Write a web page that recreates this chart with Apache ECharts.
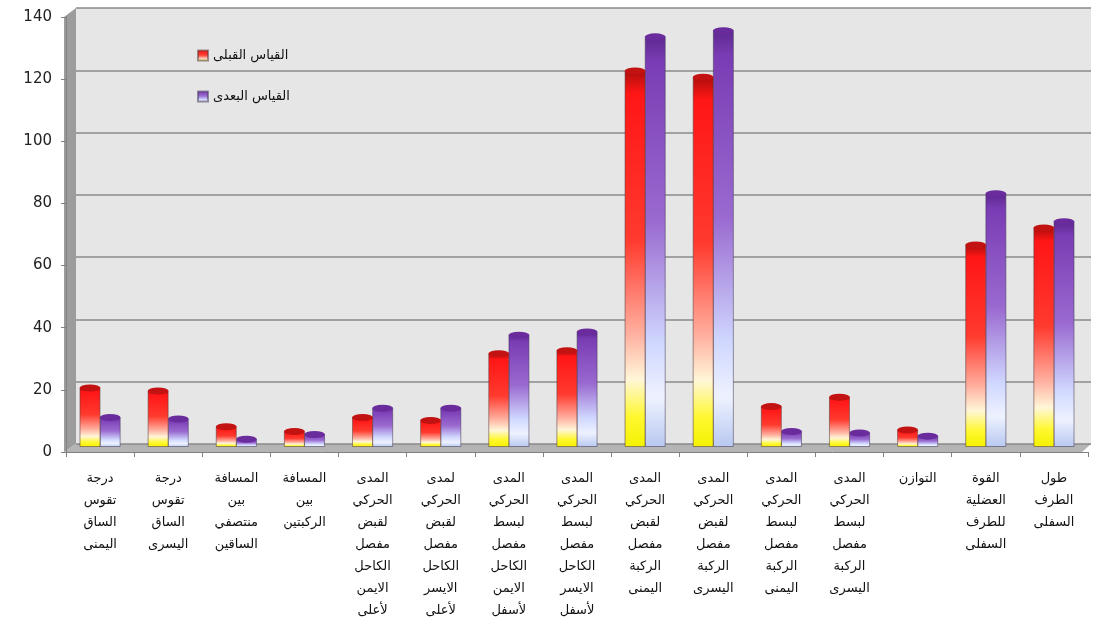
<!DOCTYPE html>
<html>
<head>
<meta charset="utf-8">
<script src="https://cdn.jsdelivr.net/npm/echarts@6/dist/echarts.min.js"></script>
<style>
  html, body { margin: 0; padding: 0; background: #fff; }
  #container { width: 1094px; height: 628px; }
</style>
</head>
<body>
<div id="container"></div>
<script>
// categories (x axis, left to right)
var categories = [
    'درجة\nتقوس\nالساق\nاليمنى',
    'درجة\nتقوس\nالساق\nاليسرى',
    'المسافة\nبين\nمنتصفي\nالساقين',
    'المسافة\nبين\nالركبتين',
    'المدى\nالحركي\nلقبض\nمفصل\nالكاحل\nالايمن\nلأعلى',
    'لمدى\nالحركي\nلقبض\nمفصل\nالكاحل\nالايسر\nلأعلى',
    'المدى\nالحركي\nلبسط\nمفصل\nالكاحل\nالايمن\nلأسفل',
    'المدى\nالحركي\nلبسط\nمفصل\nالكاحل\nالايسر\nلأسفل',
    'المدى\nالحركي\nلقبض\nمفصل\nالركبة\nاليمنى',
    'المدى\nالحركي\nلقبض\nمفصل\nالركبة\nاليسرى',
    'المدى\nالحركي\nلبسط\nمفصل\nالركبة\nاليمنى',
    'المدى\nالحركي\nلبسط\nمفصل\nالركبة\nاليسرى',
    'التوازن',
    'القوة\nالعضلية\nللطرف\nالسفلى',
    'طول\nالطرف\nالسفلى'
];

var seriesNames = ['القياس القبلى', 'القياس البعدى'];

// values
var preValues = [19, 18, 6.5, 5, 9.5, 8.5, 30, 31, 121, 119, 13, 16, 5.5, 65, 70.5];
var postValues = [9.5, 9, 2.5, 4, 12.5, 12.5, 36, 37, 132, 134, 5, 4.5, 3.5, 81.5, 72.5];

var yTicks = [0, 20, 40, 60, 80, 100, 120, 140];

var dom = document.getElementById('container');
var myChart = echarts.init(dom, null, { renderer: 'canvas' });

var preColor = new echarts.graphic.LinearGradient(0, 0, 0, 1, [
    { offset: 0, color: '#b00d0d' },
    { offset: 0.06, color: '#ff1616' },
    { offset: 0.45, color: '#ff3a2e' },
    { offset: 0.7, color: '#ffb0a0' },
    { offset: 0.82, color: '#fff6d8' },
    { offset: 0.92, color: '#fff830' },
    { offset: 1, color: '#f2f200' }
]);
var postColor = new echarts.graphic.LinearGradient(0, 0, 0, 1, [
    { offset: 0, color: '#5e2890' },
    { offset: 0.06, color: '#7a3cb4' },
    { offset: 0.45, color: '#9a6ad0' },
    { offset: 0.75, color: '#d0d8ff' },
    { offset: 0.88, color: '#eef2ff' },
    { offset: 1, color: '#b8c8f0' }
]);
var preTop = '#c21212';
var postTop = '#6a2c9c';

var barW = 21;
var gap = '-4%';

var option = {
    backgroundColor: '#ffffff',
    animation: false,
    textStyle: { fontFamily: 'DejaVu Sans' },
    legend: {
        data: seriesNames,
        orient: 'vertical',
        left: 192,
        top: 44,
        itemGap: 28,
        itemWidth: 10,
        itemHeight: 10,
        icon: 'rect',
        textStyle: { fontSize: 13, color: '#111', fontFamily: 'DejaVu Sans' }
    },
    grid: [
        // back wall
        { left: 76, right: 3, top: 8, bottom: 184, show: true, backgroundColor: '#e6e6e6', borderWidth: 0 },
        // front axes (labels)
        { left: 66, right: 6, top: 17, bottom: 176 },
        // bars
        { left: 66, right: 6, top: 12, bottom: 181 }
    ],
    xAxis: [
        { gridIndex: 0, type: 'category', data: categories, show: false },
        {
            gridIndex: 1, type: 'category', data: categories,
            axisLine: { lineStyle: { color: '#808080', width: 1 } },
            axisTick: { show: true, length: 5, lineStyle: { color: '#808080' } },
            axisLabel: {
                interval: 0, color: '#111', fontSize: 13, lineHeight: 22,
                margin: 16, verticalAlign: 'top', fontFamily: 'DejaVu Sans'
            }
        },
        { gridIndex: 2, type: 'category', data: categories, show: false }
    ],
    yAxis: [
        {
            gridIndex: 0, type: 'value', min: 0, max: 140, interval: 20,
            axisLine: { show: false }, axisTick: { show: false }, axisLabel: { show: false },
            splitLine: { show: true, lineStyle: { color: '#8a8a8a', width: 1.5 } }
        },
        {
            gridIndex: 1, type: 'value', min: 0, max: 140, interval: 20,
            axisLine: { show: true, lineStyle: { color: '#808080' } },
            axisTick: { show: true, length: 5, lineStyle: { color: '#808080' } },
            axisLabel: {
                color: '#222', fontSize: 15, margin: 14, fontFamily: 'DejaVu Sans',
                formatter: function (v) { return yTicks.indexOf(v) >= 0 ? String(v) : ''; }
            },
            splitLine: { show: false }
        },
        { gridIndex: 2, type: 'value', min: 0, max: 140, interval: 20, show: false, splitLine: { show: false } }
    ],
    graphic: [
        // left wall and floor of the 3D box
        { type: 'polygon', z: -1, shape: { points: [[64, 17], [76, 8], [76, 444], [64, 452]] }, style: { fill: '#9c9c9c' } },
        { type: 'polygon', z: -1, shape: { points: [[64, 452], [76, 444], [1091, 444], [1082, 452]] }, style: { fill: '#b4b4b4' } }
    ],
    series: [
        {
            name: seriesNames[0], type: 'bar', xAxisIndex: 2, yAxisIndex: 2,
            data: preValues, barWidth: barW, barGap: gap, z: 3,
            itemStyle: { color: preColor, borderColor: 'rgba(90,60,60,0.55)', borderWidth: 1 }
        },
        {
            name: seriesNames[1], type: 'bar', xAxisIndex: 2, yAxisIndex: 2,
            data: postValues, barWidth: barW, barGap: gap, z: 2,
            itemStyle: { color: postColor, borderColor: 'rgba(70,60,90,0.55)', borderWidth: 1 }
        },
        {
            name: seriesNames[0], type: 'pictorialBar', xAxisIndex: 2, yAxisIndex: 2,
            data: preValues, barWidth: barW, barGap: gap, z: 4,
            symbol: 'circle', symbolSize: [barW, 7], symbolPosition: 'end', symbolOffset: [0, '-50%'],
            itemStyle: { color: preTop }
        },
        {
            name: seriesNames[1], type: 'pictorialBar', xAxisIndex: 2, yAxisIndex: 2,
            data: postValues, barWidth: barW, barGap: gap, z: 3,
            symbol: 'circle', symbolSize: [barW, 7], symbolPosition: 'end', symbolOffset: [0, '-50%'],
            itemStyle: { color: postTop }
        }
    ]
};

myChart.setOption(option);
window.addEventListener('resize', myChart.resize);
</script>
</body>
</html>
